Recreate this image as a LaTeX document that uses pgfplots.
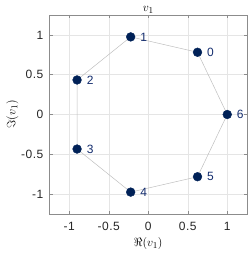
\documentclass[border=0pt]{standalone}
\usepackage{pgfplots}
\pgfplotsset{compat=1.18}
\usetikzlibrary{calc}
\usepackage{fontspec}
\setmainfont{Liberation Sans}[LetterSpace=4]
\definecolor{navy}{RGB}{0,33,87}
\definecolor{lbl}{RGB}{20,45,110}
\begin{document}
\begin{tikzpicture}
\begin{axis}[
  scale only axis, width=197.5pt, height=199pt,
  xmin=-1.25, xmax=1.25, ymin=-1.25, ymax=1.25,
  xtick={-1,-0.5,0,0.5,1}, ytick={-1,-0.5,0,0.5,1},
  grid=major, major grid style={black!10, line width=0.4pt},
  axis line style={black!45, line width=0.5pt},
  tick style={black!45, line width=0.5pt}, tick align=inside,
  major tick length=3pt,
  /pgf/number format/assume math mode=true,
  tick label style={font=\fontsize{12}{13}\selectfont, text=black!85, inner sep=0pt},
  xticklabel style={anchor=center, yshift=-12.5pt},
  yticklabel style={anchor=east, xshift=-6pt},
  title={$v_1$}, title style={font=\fontsize{13}{14}\selectfont, anchor=center, yshift=-1pt},
  xlabel={$\Re(v_1)$}, ylabel={$\Im(v_1)$},
  label style={font=\fontsize{12.5}{13}\selectfont},
  xlabel style={at={(axis description cs:0.5,0)}, anchor=center, yshift=-29.5pt},
  ylabel style={inner sep=2.5pt},
  clip=false,
]
\addplot[black!25, line width=0.5pt] coordinates {
 (0.6235,0.7818) (-0.2225,0.9749) (-0.9010,0.4339) (-0.9010,-0.4339)
 (-0.2225,-0.9749) (0.6235,-0.7818) (1.0,0.0) (0.6235,0.7818)};
\addplot[only marks, mark=*, mark size=4.4pt, navy, mark options={fill=navy, draw=navy},
  nodes near coords, point meta=explicit symbolic,
  every node near coord/.style={anchor=west, inner sep=0pt, xshift=9.5pt, text=lbl, font=\fontsize{12}{13}\selectfont}]
 table[meta=l] {
 x y l
 0.6235 0.7818 0
 -0.2225 0.9749 1
 -0.9010 0.4339 2
 -0.9010 -0.4339 3
 -0.2225 -0.9749 4
 0.6235 -0.7818 5
 1.0 0.0 6
 };
\end{axis}
\pgfresetboundingbox
\path[use as bounding box] ($(current axis.south west)+(-49.5pt,-39pt)$) rectangle ($(current axis.north east)+(2pt,15pt)$);
\end{tikzpicture}
\end{document}
